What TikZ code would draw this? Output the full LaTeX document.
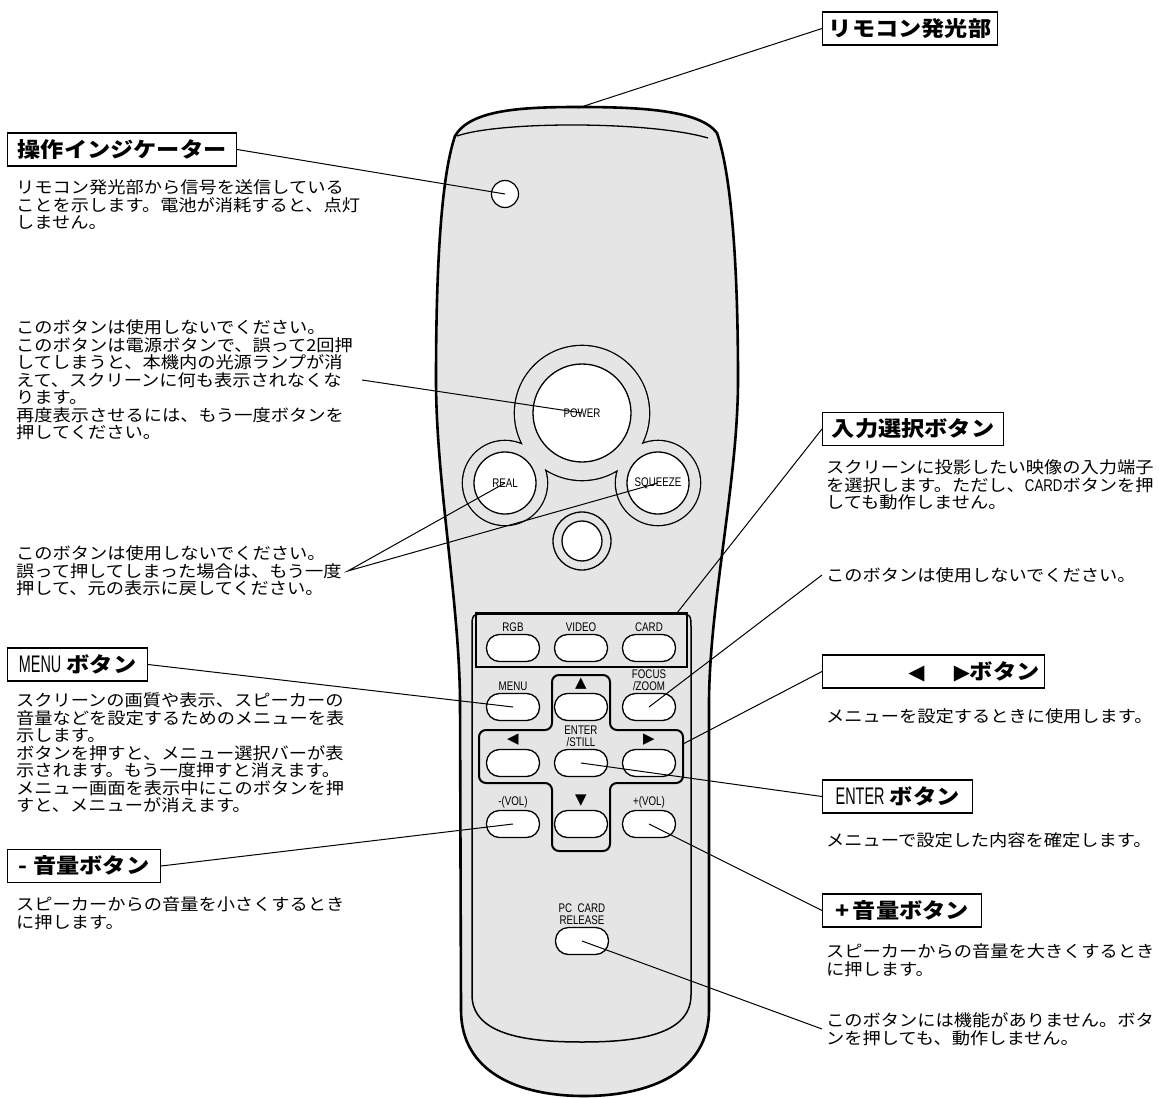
\documentclass[tikz,border=0pt]{standalone}
\usepackage{fontspec}
\usetikzlibrary{positioning}
\newfontfamily\jpfont[FakeStretch=1.105]{Noto Sans CJK JP}
\newfontfamily\condfont[FakeStretch=0.78]{Liberation Sans}
\newfontfamily\narrowfont[FakeStretch=0.6]{Liberation Sans}
\newfontfamily\symfont{DejaVu Sans}
\definecolor{bodygray}{RGB}{229,229,229}

\begin{document}
\begin{tikzpicture}[
    x=1pt, y=-1pt,
    btn/.style={draw, fill=white, line width=1.3pt, rounded corners=13pt,
      minimum width=53pt, minimum height=27pt, inner sep=0pt},
    btnlabel/.style={font=\condfont\fontsize{12.5}{12.5}\selectfont, inner sep=0pt, align=center},
    arrowlabel/.style={font=\symfont\fontsize{15}{15}\selectfont, inner sep=0pt},
    roundbtn/.style={circle, draw, fill=white, line width=1.3pt, inner sep=0pt,
      font=\condfont\fontsize{12.5}{12.5}\selectfont},
    title/.style={draw, line width=1.2pt, fill=white, inner xsep=5pt, inner ysep=0pt,
      minimum height=33pt, anchor=west, font=\jpfont\bfseries\fontsize{21}{24}\selectfont},
    desc/.style={anchor=west, align=left, inner sep=0pt,
      font=\jpfont\fontsize{16.5}{17.5}\selectfont},
    leader/.style={line width=1pt}
  ]
  \useasboundingbox (0,0) rectangle (1159,1099);

  % remote body
  \draw[line width=2.6pt, fill=bodygray]
    (455,136) .. controls (470,110) and (520,107) .. (578,107)
    .. controls (640,107) and (700,110) .. (717,133)
    .. controls (733,180) and (738,280) .. (738,380)
    .. controls (738,480) and (710,600) .. (709,700)
    -- (709,1010)
    .. controls (709,1072) and (650,1096) .. (584,1096)
    .. controls (518,1096) and (461,1072) .. (461,1010)
    -- (460,700)
    .. controls (459,600) and (436,480) .. (436,380)
    .. controls (436,280) and (440,180) .. (455,136) -- cycle;
  \draw[line width=1.3pt] (457,136) .. controls (500,121) and (650,121) .. (708,138);
  \coordinate (emitter) at (578,108);

  \node[circle, draw, fill=white, line width=1.2pt, minimum size=27pt, inner sep=0pt] (led) at (505,194) {};

  % upper button cluster
  \draw[line width=2.6pt] (582,413) circle (67) (505,483) circle (42) (658,483) circle (42);
  \fill[bodygray] (582,413) circle (67) (505,483) circle (42) (658,483) circle (42);
  \draw[line width=1.3pt] (582,541) circle (29);
  \node[roundbtn, minimum size=98pt] (power) at (582,413) {POWER};
  \node[roundbtn, minimum size=62pt] (real) at (505,483) {REAL};
  \node[roundbtn, minimum size=62pt] (squeeze) at (658,483) {SQUEEZE};
  \node[roundbtn, minimum size=40pt] (dot) at (582,541) {};

  % lower panel
  \draw[line width=1.5pt] (472,995) -- (472,629) .. controls (472,614) .. (487,614)
    -- (676,614) .. controls (691,614) .. (691,629) -- (691,995)
    .. controls (691,1036) and (634,1042) .. (582,1042)
    .. controls (530,1042) and (472,1036) .. (472,995) -- cycle;
  \node[draw, line width=2pt, minimum width=211pt, minimum height=54pt, inner sep=0pt] (inputs) at (581.5,640) {};
  \coordinate (inputtip) at (677,613);
  \draw[line width=2pt, rounded corners=7pt]
    (581,675) -- (610,675) -- (610,730) -- (683,730) -- (683,783) -- (610,783)
    -- (610,851) -- (552,851) -- (552,783) -- (479,783) -- (479,730) -- (552,730)
    -- (552,675) -- cycle;
  \coordinate (padright) at (683,744);

  \node[btn] (rgb) at (513,648) {};
  \node[btn] (video) at (581,648) {};
  \node[btn] (card) at (649,648) {};
  \node[btnlabel, above=2pt of rgb] {RGB};
  \node[btnlabel, above=2pt of video] {VIDEO};
  \node[btnlabel, above=2pt of card] {CARD};

  \node[btn] (menu) at (513,707) {};
  \node[btn] (up) at (581,707) {};
  \node[btn] (focus) at (649,707) {};
  \node[btnlabel, above=2pt of menu] {MENU};
  \node[arrowlabel, above=3pt of up] {▲};
  \node[btnlabel, above=2pt of focus] {FOCUS\\/ZOOM};

  \node[btn] (left) at (513,763) {};
  \node[btn] (enter) at (581,763) {};
  \node[btn] (right) at (649,763) {};
  \node[arrowlabel, above=3pt of left] {◀};
  \node[btnlabel, above=2pt of enter] {ENTER\\/STILL};
  \node[arrowlabel, above=3pt of right] {▶};

  \node[btn] (voldown) at (513,824) {};
  \node[btn] (down) at (581,824) {};
  \node[btn] (volup) at (649,824) {};
  \node[btnlabel, above=2pt of voldown] {-(VOL)};
  \node[arrowlabel, above=3pt of down] {▼};
  \node[btnlabel, above=2pt of volup] {+(VOL)};

  \node[btn] (pccard) at (582,941) {};
  \node[btnlabel, above=2pt of pccard] {PC\ \ CARD\\RELEASE};

  % left column
  \node[title, minimum width=229pt] (indtitle) at (7,149.5) {操作インジケーター};
  \node[desc] (indtext) at (16,205) {リモコン発光部から信号を送信している\\ことを示します。電池が消耗すると、点灯\\しません。};
  \node[desc] (powertext) at (16,380) {このボタンは使用しないでください。\\このボタンは電源ボタンで、誤って2回押\\してしまうと、本機内の光源ランプが消\\えて、スクリーンに何も表示されなくな\\ります。\\再度表示させるには、もう一度ボタンを\\押してください。};
  \node[desc] (realtext) at (16,571) {このボタンは使用しないでください。\\誤って押してしまった場合は、もう一度\\押して、元の表示に戻してください。};
  \node[title, minimum width=140pt] (menutitle) at (7,664.5) {{\narrowfont\mdseries\fontsize{24}{24}\selectfont MENU} ボタン};
  \node[desc] (menutext) at (16,753) {スクリーンの画質や表示、スピーカーの\\音量などを設定するためのメニューを表\\示します。\\ボタンを押すと、メニュー選択バーが表\\示されます。もう一度押すと消えます。\\メニュー画面を表示中にこのボタンを押\\すと、メニューが消えます。};
  \node[title, minimum width=153pt] (voldowntitle) at (7,866) {- 音量ボタン};
  \node[desc] (voldowntext) at (16,913) {スピーカーからの音量を小さくするとき\\に押します。};

  % right column
  \node[title, minimum width=175pt] (remtitle) at (822,28.5) {リモコン発光部};
  \node[title, minimum width=181pt] (inputtitle) at (822,429) {入力選択ボタン};
  \node[desc] (inputtext) at (826,485) {スクリーンに投影したい映像の入力端子\\を選択します。ただし、{\condfont\fontsize{17}{17}\selectfont CARD}ボタンを押\\しても動作しません。};
  \node[desc] (focustext) at (826,575) {このボタンは使用しないでください。};
  \node[title, text width=212pt, align=right] (arrowtitle) at (822,671.5) {{\symfont ◀}\hspace{1.4em}{\symfont ▶}ボタン};
  \node[desc] (arrowtext) at (826,716) {メニューを設定するときに使用します。};
  \node[title, minimum width=150pt] (entertitle) at (822,796.5) {{\narrowfont\mdseries\fontsize{24}{24}\selectfont ENTER} ボタン};
  \node[desc] (entertext) at (826,840) {メニューで設定した内容を確定します。};
  \node[title, minimum width=159pt] (voluptitle) at (822,910.5) {+\,音量ボタン};
  \node[desc] (voluptext) at (826,960) {スピーカーからの音量を大きくするとき\\に押します。};
  \node[desc] (pctext) at (826,1029) {このボタンには機能がありません。ボタ\\ンを押しても、動作しません。};

  % leader lines
  \draw[leader] (remtitle.west) -- (emitter);
  \draw[leader] (indtitle.east) -- (led.center);
  \draw[leader] ([xshift=9pt]powertext.east) -- (power.center);
  \draw[leader] (real.center) -- ([xshift=6pt]realtext.east) -- (squeeze.center);
  \draw[leader] (menutitle.east) -- (menu.center);
  \draw[leader] (voldowntitle.east) -- (voldown.center);
  \draw[leader] (inputtitle.west) -- (inputtip);
  \draw[leader] ([xshift=-4pt]focustext.west) -- (focus.center);
  \draw[leader] (arrowtitle.west) -- (padright);
  \draw[leader] (entertitle.west) -- (enter.center);
  \draw[leader] (voluptitle.west) -- (volup.center);
  \draw[leader] ([xshift=-4pt]pctext.west) -- (pccard.center);
\end{tikzpicture}
\end{document}
